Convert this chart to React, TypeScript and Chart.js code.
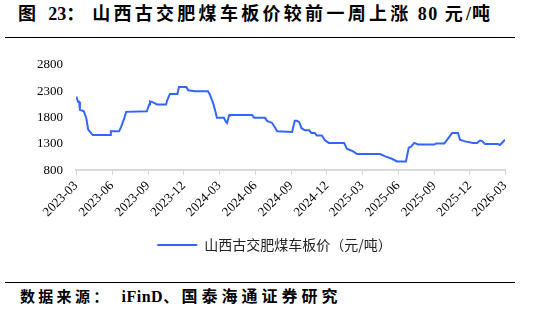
import React, { useEffect, useRef } from "react";
import { Chart, registerables } from "chart.js";

Chart.register(...registerables);

const seriesLabel = "山西古交肥煤车板价（元/吨）";

const dates = [
  "2023-03-02", "2023-03-06", "2023-03-09", "2023-03-11", "2023-03-21", "2023-03-27",
  "2023-04-01", "2023-04-06", "2023-04-13", "2023-05-27", "2023-05-29", "2023-06-19",
  "2023-06-24", "2023-07-02", "2023-07-07", "2023-08-29", "2023-09-04", "2023-09-06",
  "2023-09-14", "2023-09-24", "2023-10-17", "2023-10-20", "2023-10-27", "2023-11-15",
  "2023-11-19", "2023-12-08", "2023-12-13", "2023-12-30", "2024-02-01", "2024-02-06",
  "2024-02-14", "2024-02-19", "2024-02-24", "2024-03-13", "2024-03-18", "2024-03-21",
  "2024-03-26", "2024-03-28", "2024-05-24", "2024-05-29", "2024-06-26", "2024-07-01",
  "2024-07-14", "2024-07-21", "2024-07-27", "2024-09-03", "2024-09-10", "2024-09-15",
  "2024-09-21", "2024-09-27", "2024-10-06", "2024-10-17", "2024-10-22", "2024-10-31",
  "2024-11-05", "2024-11-18", "2024-11-26", "2024-12-06", "2025-01-14", "2025-01-21",
  "2025-02-06", "2025-02-16", "2025-04-16", "2025-04-29", "2025-05-16", "2025-05-29",
  "2025-06-21", "2025-06-28", "2025-07-04", "2025-07-12", "2025-07-22", "2025-09-01",
  "2025-09-06", "2025-09-27", "2025-10-03", "2025-10-17", "2025-11-01", "2025-11-06",
  "2025-11-19", "2025-12-09", "2025-12-20", "2025-12-27", "2026-01-01", "2026-01-09",
  "2026-02-11", "2026-02-16", "2026-03-01",
];

const prices = [
  2200, 2100, 2100, 1950, 1920, 1800,
  1580, 1530, 1470, 1470, 1540, 1540,
  1620, 1780, 1910, 1920, 2050, 2110,
  2090, 2050, 2050, 2130, 2250, 2250,
  2380, 2380, 2320, 2300, 2300, 2240,
  2080, 1950, 1800, 1800, 1720, 1700,
  1840, 1850, 1850, 1800, 1800, 1740,
  1700, 1620, 1540, 1530, 1740, 1740,
  1720, 1600, 1560, 1560, 1510, 1510,
  1460, 1460, 1370, 1320, 1320, 1210,
  1160, 1110, 1110, 1066, 1020, 970,
  970, 1230, 1250, 1320, 1290, 1290,
  1310, 1310, 1370, 1510, 1510, 1380,
  1350, 1320, 1320, 1365, 1360, 1300,
  1300, 1280, 1380,
];

const xTickLabels = [
  "2023-03", "2023-06", "2023-09", "2023-12", "2024-03", "2024-06", "2024-09",
  "2024-12", "2025-03", "2025-06", "2025-09", "2025-12", "2026-03",
];

const yTicks = [800, 1300, 1800, 2300, 2800];

const BASE = Date.UTC(2023, 2, 1);
function dayOf(s: string): number {
  const [y, m, d] = s.split("-").map(Number);
  return (Date.UTC(y, m - 1, d || 1) - BASE) / 86400000;
}

const LINE_COLOR = "#3366ff";
const SERIF = '"Liberation Serif", "Times New Roman", serif';
const TITLE_FONT = '"Liberation Serif", "Noto Sans CJK SC", serif';

const shiftLegend = {
  id: "shiftLegend",
  afterLayout(chart: any) {
    const l = chart.legend;
    if (l) {
      l.left += 22;
      l.right += 22;
    }
  },
};

export default function App() {
  const ref = useRef<HTMLCanvasElement | null>(null);

  useEffect(() => {
    if (!ref.current) return;
    const points = dates.map((d, i) => ({ x: dayOf(d), y: prices[i] }));
    const tickVals = xTickLabels.map((l) => dayOf(l));
    const chart = new Chart(ref.current, {
      type: "line",
      data: {
        datasets: [
          {
            label: seriesLabel,
            data: points,
            borderColor: LINE_COLOR,
            backgroundColor: LINE_COLOR,
            borderWidth: 2,
            pointRadius: 0,
            tension: 0,
          },
        ],
      },
      plugins: [shiftLegend],
      options: {
        responsive: false,
        animation: false,
        maintainAspectRatio: false,
        layout: { padding: { left: 0, right: 41, top: 25, bottom: 0 } },
        plugins: {
          tooltip: { enabled: false },
          legend: {
            position: "bottom",
            labels: {
              boxWidth: 40,
              boxHeight: 2,
              color: "#222",
              font: { family: '"Noto Sans CJK SC", sans-serif', size: 14 },
              generateLabels: (c: any) =>
                Chart.defaults.plugins.legend.labels.generateLabels(c).map((it: any) => ({
                  ...it,
                  lineWidth: 0,
                  fillStyle: LINE_COLOR,
                  strokeStyle: LINE_COLOR,
                })),
            },
          },
        },
        scales: {
          x: {
            type: "linear",
            min: dayOf("2023-03"),
            max: dayOf("2026-03"),
            afterBuildTicks: (scale: any) => {
              scale.ticks = tickVals.map((v) => ({ value: v }));
            },
            afterFit: (scale: any) => {
              scale.height = scale.height + 5;
            },
            ticks: {
              autoSkip: false,
              minRotation: 45,
              maxRotation: 45,
              color: "#000",
              font: { family: SERIF, size: 13 },
              callback: (v: any) => {
                const i = tickVals.indexOf(Number(v));
                return i >= 0 ? xTickLabels[i] : "";
              },
            },
            grid: {
              display: true,
              drawOnChartArea: false,
              drawTicks: true,
              tickLength: 5,
              color: "#d9d9d9",
            },
            border: { display: true, color: "#d9d9d9", width: 2 },
          },
          y: {
            min: 800,
            max: 2800,
            afterBuildTicks: (scale: any) => {
              scale.ticks = yTicks.map((v) => ({ value: v }));
            },
            afterFit: (scale: any) => {
              scale.width = 76;
            },
            ticks: {
              color: "#000",
              padding: 13,
              font: { family: SERIF, size: 13 },
              callback: (v: any) => String(v),
            },
            grid: { display: false, drawTicks: false },
            border: { display: false },
          },
        },
      },
    } as any);
    return () => chart.destroy();
  }, []);

  const plain = { letterSpacing: 0 };

  return (
    <div
      style={{
        position: "absolute",
        left: 0,
        top: 0,
        width: 546,
        height: 314,
        background: "#fff",
        overflow: "hidden",
      }}
    >
      <div
        style={{
          position: "absolute",
          left: 18,
          top: 3,
          fontFamily: TITLE_FONT,
          fontWeight: "bold",
          fontSize: 18,
          lineHeight: "22px",
          letterSpacing: 3.3,
          whiteSpace: "nowrap",
          color: "#000",
        }}
      >
        图<span style={plain}>&nbsp;&nbsp;23</span>：<span style={plain}>&nbsp;</span>山西古交肥煤车板价较前一周上涨<span style={{ letterSpacing: 1.5 }}>&nbsp;80&nbsp;</span>元<span style={{ letterSpacing: 1 }}>/</span>吨
      </div>
      <div style={{ position: "absolute", left: 5, top: 37, width: 510, height: 1, background: "#000" }} />
      <canvas
        ref={ref}
        width={546}
        height={222}
        style={{ position: "absolute", left: 0, top: 40, width: 546, height: 222 }}
      />
      <div style={{ position: "absolute", left: 5, top: 282, width: 510, height: 1, background: "#000" }} />
      <div
        style={{
          position: "absolute",
          left: 20,
          top: 287,
          fontFamily: TITLE_FONT,
          fontWeight: "bold",
          fontSize: 15,
          lineHeight: "20px",
          letterSpacing: 3.3,
          whiteSpace: "nowrap",
          color: "#000",
        }}
      >
        数据来源：<span style={{ display: "inline-block", width: 10 }} />
        <span style={{ letterSpacing: 0.5, fontSize: 16 }}>iFinD</span>、
        <span style={{ letterSpacing: 4, fontSize: 16 }}>国泰海通证券研究</span>
      </div>
    </div>
  );
}
